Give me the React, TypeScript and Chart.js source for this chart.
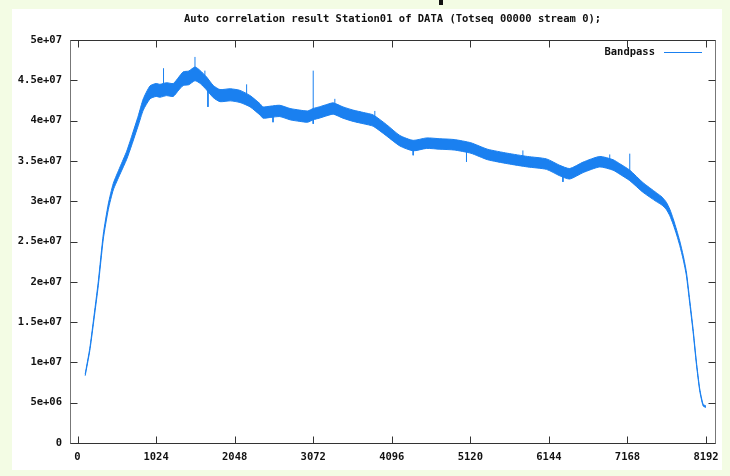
import { useEffect, useRef } from 'react';
import { Chart, registerables } from 'chart.js';

Chart.register(...registerables);

const TITLE = 'Auto correlation result Station01 of DATA (Totseq 00000 stream 0);';
const SERIES_NAME = 'Bandpass';

// channel numbers at which the band was read
const CHANNELS = [
  100, 160, 206, 271, 336, 401, 466, 554, 641, 706, 792, 857, 945, 1024, 1075, 1160,
  1248, 1320, 1378, 1450, 1531, 1600, 1683, 1770, 1857, 1990, 2117, 2250, 2378, 2419,
  2520, 2637, 2770, 2898, 3000, 3072, 3150, 3250, 3333, 3460, 3593, 3730, 3854, 4028,
  4202, 4375, 4549, 4723, 4910, 5127, 5344, 5605, 5865, 6112, 6286, 6416, 6590, 6807,
  6980, 7068, 7198, 7371, 7545, 7620, 7676, 7720, 7763, 7810, 7849, 7895, 7936, 7980,
  8023, 8067, 8110, 8154, 8191,
];

// centre of the noisy band, in units of 1e6
const LEVEL_M = [
  8.45, 11.6, 14.9, 19.8, 25.6, 29.3, 31.8, 33.8, 35.7, 37.5, 40.0, 42.0, 43.5, 43.8, 43.7, 43.9,
  43.8, 44.6, 45.2, 45.3, 45.8, 45.4, 44.6, 43.6, 43.1, 43.2, 43.0, 42.4, 41.4, 41.0,
  41.1, 41.2, 40.8, 40.6, 40.5, 40.8, 41.0, 41.3, 41.5, 41.0, 40.6, 40.3, 40.0, 38.8,
  37.5, 36.9, 37.2, 37.1, 37.0, 36.6, 35.8, 35.3, 34.9, 34.6, 33.8, 33.4, 34.2, 34.9,
  34.5, 34.0, 33.2, 31.7, 30.5, 30.0, 29.4, 28.6, 27.5, 26.1, 24.8, 23.0, 21.0, 17.5,
  14.0, 9.9, 6.6, 4.7, 4.5,
];

// half-thickness of the noisy band, in units of 1e6
const SPREAD_M = [
  0.1, 0.15, 0.2, 0.25, 0.3, 0.35, 0.4, 0.45, 0.5, 0.55, 0.6, 0.7, 0.8, 0.8, 0.8, 0.8,
  0.8, 0.8, 0.85, 0.85, 0.85, 0.8, 0.8, 0.75, 0.75, 0.75, 0.75, 0.7, 0.7, 0.7,
  0.7, 0.7, 0.7, 0.7, 0.7, 0.7, 0.7, 0.7, 0.7, 0.7, 0.7, 0.7, 0.7, 0.7,
  0.65, 0.65, 0.65, 0.65, 0.65, 0.65, 0.65, 0.65, 0.65, 0.65, 0.65, 0.65, 0.65, 0.65,
  0.65, 0.65, 0.65, 0.6, 0.55, 0.5, 0.45, 0.4, 0.35, 0.3, 0.28, 0.25, 0.22, 0.2,
  0.18, 0.15, 0.12, 0.1, 0.1,
];

// isolated spikes sticking out of the band (units of 1e6)
const SPIKE_CHANNELS = [1121, 1531, 1660, 1700, 2204, 2548, 3072, 3072, 3354, 3875, 4375, 5070, 5805, 6327, 6937, 7198];
const SPIKE_BASE_M = [43.8, 45.8, 45.0, 44.4, 43.0, 41.1, 40.8, 40.8, 41.5, 40.0, 36.9, 36.8, 35.0, 33.6, 34.7, 33.2];
const SPIKE_TIP_M = [46.5, 47.9, 46.2, 41.7, 44.5, 39.8, 46.2, 39.6, 42.7, 41.2, 35.7, 34.9, 36.3, 32.4, 35.8, 35.9];

const X_TICKS = [0, 1024, 2048, 3072, 4096, 5120, 6144, 7168, 8192];
const Y_TICKS = [0, 5e6, 1e7, 1.5e7, 2e7, 2.5e7, 3e7, 3.5e7, 4e7, 4.5e7, 5e7];
const Y_TICK_LABELS = ['0', '5e+06', '1e+07', '1.5e+07', '2e+07', '2.5e+07', '3e+07', '3.5e+07', '4e+07', '4.5e+07', '5e+07'];

const BLUE = '#1a80f0';
const FONT = '"DejaVu Sans Mono", monospace';

const backgroundPlugin = {
  id: 'pageBackground',
  beforeDraw(chart: any) {
    const { ctx, width, height, chartArea } = chart;
    ctx.save();
    ctx.fillStyle = '#f3fce4';
    ctx.fillRect(0, 0, width, height);
    ctx.fillStyle = '#ffffff';
    ctx.fillRect(12, 9, 710, 461);
    ctx.fillStyle = '#111111';
    ctx.fillRect(439, 0, 4, 5);
    // title, centred over the plot area
    ctx.font = `bold 10.5px ${FONT}`;
    ctx.textAlign = 'center';
    ctx.textBaseline = 'middle';
    ctx.fillText(TITLE, (chartArea.left + chartArea.right) / 2, 19);
    ctx.restore();
  },
};

const framePlugin = {
  id: 'gnuplotFrame',
  afterDatasetsDraw(chart: any) {
    const { ctx, chartArea } = chart;
    const { left, right, top, bottom } = chartArea;
    const xs = chart.scales.x;
    const ys = chart.scales.y;
    const L = Math.round(left) + 0.5;
    const R = Math.round(right) + 0.5;
    const T = Math.round(top) + 0.5;
    const B = Math.round(bottom) + 0.5;
    ctx.save();
    ctx.lineWidth = 1;
    ctx.strokeStyle = '#333333';
    ctx.beginPath();
    ctx.moveTo(L, T); ctx.lineTo(R, T);
    ctx.moveTo(L, B); ctx.lineTo(R, B);
    ctx.stroke();
    ctx.strokeStyle = '#777777';
    ctx.beginPath();
    ctx.moveTo(L, T); ctx.lineTo(L, B);
    ctx.moveTo(R, T); ctx.lineTo(R, B);
    ctx.stroke();
    ctx.strokeStyle = '#333333';
    ctx.beginPath();
    const tl = 7;
    X_TICKS.forEach((v) => {
      const px = Math.round(xs.getPixelForValue(v)) + 0.5;
      ctx.moveTo(px, B); ctx.lineTo(px, B - tl);
      ctx.moveTo(px, T); ctx.lineTo(px, T + tl);
    });
    Y_TICKS.forEach((v) => {
      const py = Math.round(ys.getPixelForValue(v)) + 0.5;
      ctx.moveTo(L, py); ctx.lineTo(L + tl, py);
      ctx.moveTo(R, py); ctx.lineTo(R - tl, py);
    });
    ctx.stroke();

    // key
    ctx.font = `bold 10.5px ${FONT}`;
    ctx.fillStyle = '#111111';
    ctx.textAlign = 'right';
    ctx.textBaseline = 'middle';
    ctx.fillText(SERIES_NAME, 655, 52);
    ctx.strokeStyle = BLUE;
    ctx.beginPath();
    ctx.moveTo(664, 52.5);
    ctx.lineTo(702, 52.5);
    ctx.stroke();
    ctx.restore();
  },
};

export default function App() {
  const canvasRef = useRef<HTMLCanvasElement | null>(null);

  useEffect(() => {
    const canvas = canvasRef.current;
    if (!canvas) return;

    const lower = CHANNELS.map((c, i) => ({ x: c, y: (LEVEL_M[i] - SPREAD_M[i]) * 1e6 }));
    const upper = CHANNELS.map((c, i) => ({ x: c, y: (LEVEL_M[i] + SPREAD_M[i]) * 1e6 }));
    const spikes: any[] = [];
    SPIKE_CHANNELS.forEach((c, i) => {
      spikes.push({ x: c, y: SPIKE_BASE_M[i] * 1e6 });
      spikes.push({ x: c, y: SPIKE_TIP_M[i] * 1e6 });
      spikes.push({ x: c, y: null });
    });

    const chart = new Chart(canvas, {
      type: 'line',
      data: {
        datasets: [
          {
            label: SERIES_NAME + ' low',
            data: lower,
            borderColor: BLUE,
            borderWidth: 1,
            pointRadius: 0,
            fill: false,
            tension: 0.2,
          },
          {
            label: SERIES_NAME,
            data: upper,
            borderColor: BLUE,
            backgroundColor: BLUE,
            borderWidth: 1,
            pointRadius: 0,
            fill: '-1',
            tension: 0.2,
          },
          {
            label: SERIES_NAME + ' spikes',
            data: spikes,
            borderColor: BLUE,
            borderWidth: 1,
            pointRadius: 0,
            fill: false,
            spanGaps: false,
            tension: 0,
          },
        ],
      },
      options: {
        animation: false,
        responsive: false,
        events: [],
        layout: { padding: { left: 0, right: 15, top: 40, bottom: 0 } },
        plugins: {
          legend: { display: false },
          tooltip: { enabled: false },
          title: { display: false },
        },
        scales: {
          x: {
            type: 'linear',
            min: -98,
            max: 8309,
            grid: { display: false, drawTicks: false },
            border: { display: false },
            afterBuildTicks: (s: any) => {
              s.ticks = X_TICKS.map((v) => ({ value: v }));
            },
            afterFit: (s: any) => {
              s.height = 33;
            },
            ticks: {
              autoSkip: false,
              maxRotation: 0,
              padding: 8,
              color: '#111111',
              font: { family: FONT, size: 10.5, weight: 'bold' },
              callback: (v: any) => String(v),
            },
          },
          y: {
            type: 'linear',
            min: 0,
            max: 5e7,
            grid: { display: false, drawTicks: false },
            border: { display: false },
            afterBuildTicks: (s: any) => {
              s.ticks = Y_TICKS.map((v) => ({ value: v }));
            },
            afterFit: (s: any) => {
              s.width = 70;
            },
            ticks: {
              autoSkip: false,
              padding: 8,
              color: '#111111',
              font: { family: FONT, size: 10.5, weight: 'bold' },
              callback: (_v: any, i: number) => Y_TICK_LABELS[i],
            },
          },
        },
      },
      plugins: [backgroundPlugin, framePlugin],
    });

    return () => {
      chart.destroy();
    };
  }, []);

  return (
    <div style={{ position: 'fixed', left: 0, top: 0, width: 730, height: 476 }}>
      <canvas ref={canvasRef} width={730} height={476} style={{ display: 'block', width: 730, height: 476 }} />
    </div>
  );
}
